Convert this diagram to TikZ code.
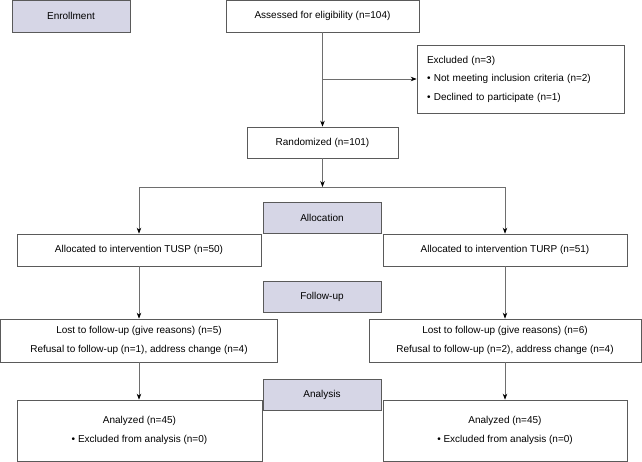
\documentclass[tikz,border=0pt]{standalone}
\usepackage{fontspec}
\setmainfont{Liberation Sans}
\usetikzlibrary{positioning}
\usetikzlibrary{arrows.meta}
\definecolor{phasefill}{HTML}{D6D6E6}
\definecolor{boxline}{HTML}{5A5A5A}
\definecolor{flowline}{HTML}{6E6E6E}
\tikzset{
  box/.style={draw=boxline, line width=0.7pt, fill=white, inner sep=0pt, align=center,
    font=\fontsize{10}{18.5}\selectfont},
  phase/.style={box, fill=phasefill, minimum width=118pt, minimum height=31pt},
  flow/.style={draw=flowline, line width=0.7pt, -{Stealth[black,length=6pt,width=4.5pt]}},
  line/.style={draw=flowline, line width=0.7pt}
}

\begin{document}
\begin{tikzpicture}[x=1pt,y=-1pt]
    \useasboundingbox (0,0) rectangle (642,461);
    \path (71,16) node [phase, minimum height=32pt] (enr) {Enrollment};
    \path (322.5,16) node [box, minimum width=193pt, minimum height=32pt] (ass) {Assessed for eligibility (n=104)};
    \path (520.5,79) node [box, minimum width=207pt, minimum height=68pt, align=left, text width=187pt] (exc)
        {Excluded (n=3)\\ \textbullet\ Not meeting inclusion criteria (n=2)\\ \textbullet\ Declined to participate (n=1)};
    \path (322.5,142.5) node [box, minimum width=151pt, minimum height=31pt] (ran) {Randomized (n=101)};
    \draw [flow] (ass) -- (ran);
    \path (ass |- exc) coordinate (excp);
    \draw [flow] (excp) -- (exc.west);

    \path (322,217.5) node [phase] (alc) {Allocation};
    \path (139,250) node [box, minimum width=244pt, minimum height=32pt] (tusp) {Allocated to intervention TUSP (n=50)};
    \path (505,250) node [box, minimum width=244pt, minimum height=32pt] (turp) {Allocated to intervention TURP (n=51)};
    \path (ran.south |- 0,187) coordinate (split);
    \draw [flow] (ran) -- (split);
    \draw [flow] (split) -| (tusp);
    \draw [flow] (split) -| (turp);

    \path (322,296.5) node [phase] (fol) {Follow-up};
    \path (139,340.5) node [box, minimum width=277pt, minimum height=43pt] (lost1)
        {Lost to follow-up (give reasons) (n=5)\\ Refusal to follow-up (n=1), address change (n=4)};
    \path (505,340.5) node [box, minimum width=272pt, minimum height=43pt] (lost2)
        {Lost to follow-up (give reasons) (n=6)\\ Refusal to follow-up (n=2), address change (n=4)};
    \draw [flow] (tusp) -- (tusp |- lost1.north);
    \draw [flow] (turp) -- (turp |- lost2.north);

    \path (322,394.5) node [phase] (ana) {Analysis};
    \path (139.5,430.5) node [box, minimum width=245pt, minimum height=61pt] (anl1)
        {Analyzed (n=45)\\ \textbullet\ Excluded from analysis (n=0)};
    \path (505,430.5) node [box, minimum width=244pt, minimum height=61pt] (anl2)
        {Analyzed (n=45)\\ \textbullet\ Excluded from analysis (n=0)};
    \draw [flow] (tusp |- lost1.south) -- (tusp |- anl1.north);
    \draw [flow] (turp |- lost2.south) -- (turp |- anl2.north);
\end{tikzpicture}
\end{document}
